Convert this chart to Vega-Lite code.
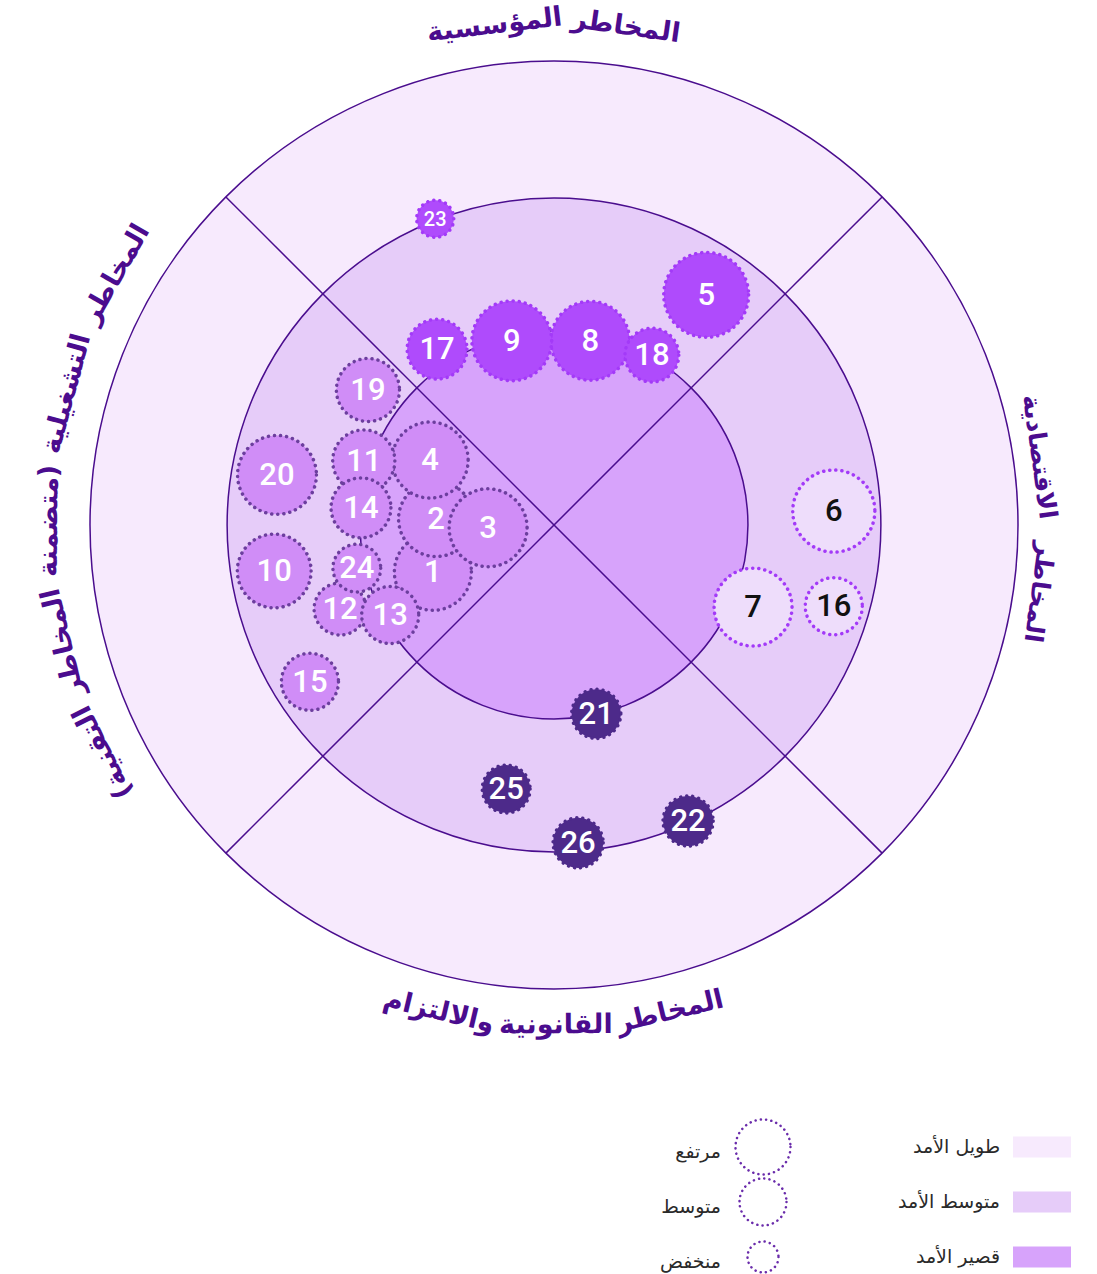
{
  "$schema": "https://vega.github.io/schema/vega-lite/v6.json",
  "padding": 0,
  "spacing": 0,
  "bounds": "flush",
  "background": "#ffffff",
  "config": {"view": {"stroke": null}, "font": "DejaVu Sans"},
  "vconcat": [
    {
      "width": 1097,
      "height": 1074,
      "resolve": {"scale": {"fill": "independent", "stroke": "independent"}},
      "encoding": {
        "x": {"field": "x", "type": "quantitative", "scale": {"domain": [-119.397, 117.026], "nice": false, "zero": false}, "axis": null},
        "y": {"field": "y", "type": "quantitative", "scale": {"domain": [-118.319, 113.147], "nice": false, "zero": false}, "axis": null}
      },
      "layer": [
        {
          "data": {"values": [
            {"term": "طويل الأمد", "x": 0, "y": 0, "d": 200},
            {"term": "متوسط الأمد", "x": 0, "y": 0, "d": 140.9},
            {"term": "قصير الأمد", "x": 0, "y": 0, "d": 83.6}
          ]},
          "mark": {"type": "point", "shape": "circle", "filled": true, "opacity": 1, "stroke": "#4A0D8E", "strokeWidth": 1.5},
          "encoding": {
            "fill": {"field": "term", "type": "nominal", "scale": {"domain": ["طويل الأمد", "متوسط الأمد", "قصير الأمد"], "range": ["#F7EAFD", "#E6CCF9", "#D7A3FB"]}, "legend": null},
            "size": {"field": "d", "type": "quantitative", "scale": {"type": "pow", "exponent": 2, "domain": [0, 200], "range": [0, 861184]}, "legend": null}
          }
        },
        {
          "data": {"values": [
            {"x": -70.71, "y": 70.71, "x2": 70.71, "y2": -70.71},
            {"x": -70.71, "y": -70.71, "x2": 70.71, "y2": 70.71}
          ]},
          "mark": {"type": "rule", "stroke": "#4A0D8E", "strokeWidth": 1.5},
          "encoding": {
            "x2": {"field": "x2"},
            "y2": {"field": "y2"}
          }
        },
        {
          "data": {"name": "risks"},
          "mark": {"type": "point", "shape": "circle", "filled": true, "opacity": 1, "strokeWidth": 3.5, "strokeDash": [0.1, 6], "strokeCap": "round"},
          "encoding": {
            "fill": {"field": "kind", "type": "nominal", "scale": {"domain": ["light", "bright", "dark", "outline"], "range": ["#D08DF7", "#AF4BFC", "#4D2A8A", "#EEDDFB"]}, "legend": null},
            "stroke": {"field": "kind", "type": "nominal", "scale": {"domain": ["light", "bright", "dark", "outline"], "range": ["#6C3E9E", "#A33AF8", "#4D2A8A", "#A33AF8"]}, "legend": null},
            "size": {"field": "d", "type": "quantitative", "scale": {"type": "pow", "exponent": 2, "domain": [0, 200], "range": [0, 861184]}, "legend": null}
          }
        },
        {
          "data": {"name": "risks"},
          "mark": {"type": "text", "font": "Roboto", "fontWeight": 500, "align": "center", "baseline": "middle", "dy": 1},
          "encoding": {
            "text": {"field": "id"},
            "size": {"condition": {"test": "datum.d < 9", "value": 20}, "value": 31},
            "color": {"condition": {"test": "datum.kind === 'outline'", "value": "#111111"}, "value": "#FFFFFF"}
          }
        },
        {
          "data": {"values": [
            {"side": "top", "word": "المخاطر", "x": 15.5, "y": 107.4, "rot": 8.2},
            {"side": "top", "word": "المؤسسية", "x": -12.8, "y": 107.7, "rot": -6.8},
            {"side": "right", "word": "المخاطر", "x": 104.6, "y": -14.5, "rot": 97.9},
            {"side": "right", "word": "الاقتصادية", "x": 104.6, "y": 14.7, "rot": 82.0},
            {"side": "bottom", "word": "المخاطر", "x": 25.0, "y": -104.9, "rot": -13.4},
            {"side": "bottom", "word": "القانونية", "x": 0.4, "y": -107.8, "rot": -0.2},
            {"side": "bottom", "word": "والالتزام", "x": -24.8, "y": -104.9, "rot": 13.3},
            {"side": "left", "word": "المخاطر", "x": -94.4, "y": 54.1, "rot": -60.2},
            {"side": "left", "word": "التشغيلية", "x": -105.0, "y": 28.3, "rot": -74.9},
            {"side": "left", "word": "‏(متضمنة", "x": -108.8, "y": 0.9, "rot": -89.5},
            {"side": "left", "word": "المخاطر", "x": -105.8, "y": -25.2, "rot": -103.4},
            {"side": "left", "word": "التقنية)‏", "x": -97.2, "y": -48.9, "rot": -116.7}
          ]},
          "mark": {"type": "text", "font": "DejaVu Sans", "fontWeight": "bold", "align": "center", "baseline": "middle", "color": "#4B0C8E"},
          "encoding": {
            "text": {"field": "word"},
            "angle": {"field": "rot", "type": "quantitative", "scale": {"domain": [-360, 360], "range": [-360, 360]}, "legend": null},
            "size": {"condition": {"test": "datum.side === 'right'", "value": 25}, "value": 27}
          }
        }
      ]
    },
    {
      "width": 1097,
      "height": 200,
      "encoding": {
        "y": {"field": "rank", "type": "ordinal", "scale": {"type": "point", "domain": [1, 2, 3], "range": [73, 183], "padding": 0}, "axis": null}
      },
      "layer": [
        {
          "data": {"name": "terms"},
          "mark": {"type": "point", "shape": "M-1,-0.36L1,-0.36L1,0.36L-1,0.36Z", "filled": true, "opacity": 1, "size": 3364, "strokeWidth": 0},
          "encoding": {
            "x": {"datum": "term", "type": "nominal", "scale": {"type": "point", "domain": ["impact", "term"], "range": [763, 1042], "padding": 0}, "axis": null},
            "fill": {"field": "term", "type": "nominal", "scale": {"domain": ["طويل الأمد", "متوسط الأمد", "قصير الأمد"], "range": ["#F7EAFD", "#E6CCF9", "#D7A3FB"]}, "legend": null}
          }
        },
        {
          "data": {"name": "terms"},
          "mark": {"type": "text", "align": "right", "baseline": "middle", "dx": -42, "fontSize": 19, "font": "DejaVu Sans", "color": "#2A2A2A"},
          "encoding": {
            "x": {"datum": "term", "type": "nominal", "scale": {"type": "point", "domain": ["impact", "term"], "range": [763, 1042], "padding": 0}, "axis": null},
            "text": {"field": "term"}
          }
        },
        {
          "data": {"name": "impacts"},
          "mark": {"type": "point", "shape": "circle", "filled": false, "opacity": 1, "stroke": "#6A2CAB", "strokeWidth": 2.5, "strokeDash": [0.1, 5.2], "strokeCap": "round"},
          "encoding": {
            "x": {"datum": "impact", "type": "nominal", "scale": {"type": "point", "domain": ["impact", "term"], "range": [763, 1042], "padding": 0}, "axis": null},
            "size": {"field": "impact", "type": "ordinal", "scale": {"type": "ordinal", "domain": ["مرتفع", "متوسط", "منخفض"], "range": [3025, 2209, 961]}, "legend": null}
          }
        },
        {
          "data": {"name": "impacts"},
          "mark": {"type": "text", "align": "right", "baseline": "middle", "dx": -42, "dy": 5, "fontSize": 19, "font": "DejaVu Sans", "color": "#2A2A2A"},
          "encoding": {
            "x": {"datum": "impact", "type": "nominal", "scale": {"type": "point", "domain": ["impact", "term"], "range": [763, 1042], "padding": 0}, "axis": null},
            "text": {"field": "impact"}
          }
        }
      ]
    }
  ],
  "datasets": {
    "risks": [
      {"id": "1", "x": -26.1, "y": -10.1, "d": 16.6, "kind": "light"},
      {"id": "2", "x": -25.4, "y": 1.3, "d": 16.2, "kind": "light"},
      {"id": "3", "x": -14.2, "y": -0.6, "d": 16.8, "kind": "light"},
      {"id": "4", "x": -26.7, "y": 14.0, "d": 16.4, "kind": "light"},
      {"id": "5", "x": 32.8, "y": 49.6, "d": 18.3, "kind": "bright"},
      {"id": "6", "x": 60.3, "y": 3.0, "d": 17.7, "kind": "outline"},
      {"id": "7", "x": 42.9, "y": -17.7, "d": 16.8, "kind": "outline"},
      {"id": "8", "x": 7.8, "y": 39.7, "d": 17.0, "kind": "bright"},
      {"id": "9", "x": -9.1, "y": 39.7, "d": 17.2, "kind": "bright"},
      {"id": "10", "x": -60.3, "y": -9.9, "d": 15.9, "kind": "light"},
      {"id": "11", "x": -41.0, "y": 13.8, "d": 13.4, "kind": "light"},
      {"id": "12", "x": -46.1, "y": -18.1, "d": 11.2, "kind": "light"},
      {"id": "13", "x": -35.3, "y": -19.4, "d": 12.3, "kind": "light"},
      {"id": "14", "x": -41.6, "y": 3.7, "d": 12.9, "kind": "light"},
      {"id": "15", "x": -52.6, "y": -33.8, "d": 12.3, "kind": "light"},
      {"id": "16", "x": 60.3, "y": -17.5, "d": 12.3, "kind": "outline"},
      {"id": "17", "x": -25.2, "y": 37.9, "d": 12.9, "kind": "bright"},
      {"id": "18", "x": 21.1, "y": 36.6, "d": 11.6, "kind": "bright"},
      {"id": "19", "x": -40.1, "y": 29.1, "d": 13.6, "kind": "light"},
      {"id": "20", "x": -59.7, "y": 10.8, "d": 17.0, "kind": "light"},
      {"id": "21", "x": 9.1, "y": -40.7, "d": 10.6, "kind": "dark"},
      {"id": "22", "x": 28.9, "y": -63.8, "d": 10.8, "kind": "dark"},
      {"id": "23", "x": -25.6, "y": 66.0, "d": 8.0, "kind": "bright"},
      {"id": "24", "x": -42.5, "y": -9.3, "d": 10.3, "kind": "light"},
      {"id": "25", "x": -10.3, "y": -56.9, "d": 10.3, "kind": "dark"},
      {"id": "26", "x": 5.2, "y": -68.5, "d": 10.8, "kind": "dark"}
    ],
    "terms": [
      {"term": "طويل الأمد", "rank": 1},
      {"term": "متوسط الأمد", "rank": 2},
      {"term": "قصير الأمد", "rank": 3}
    ],
    "impacts": [
      {"impact": "مرتفع", "rank": 1},
      {"impact": "متوسط", "rank": 2},
      {"impact": "منخفض", "rank": 3}
    ]
  }
}
